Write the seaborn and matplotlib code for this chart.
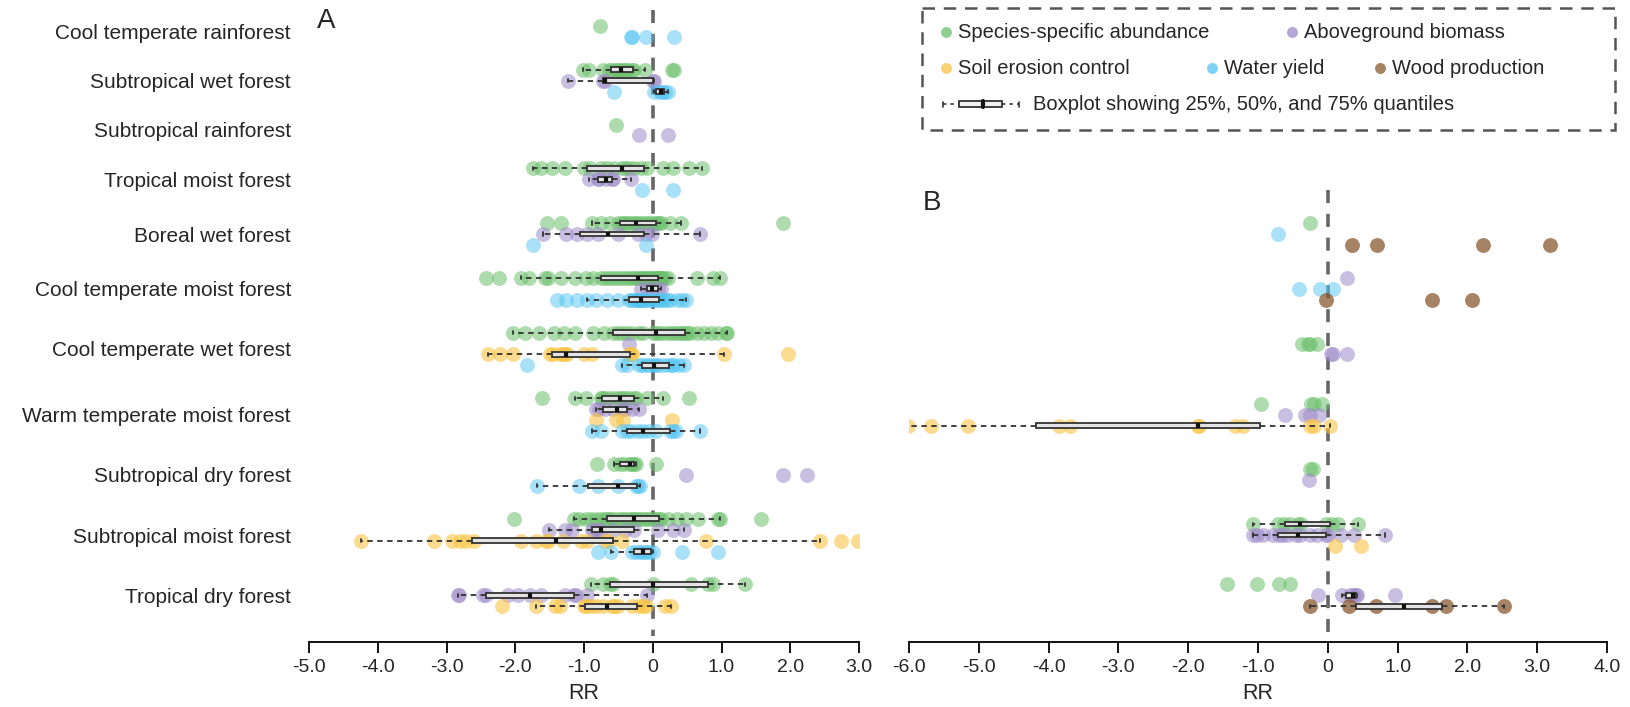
import pandas as pd
import matplotlib
matplotlib.use("Agg")
import matplotlib.pyplot as plt
import seaborn as sns
from matplotlib.patches import Rectangle

CATEGORIES = [
    "Cool temperate rainforest", "Subtropical wet forest", "Subtropical rainforest",
    "Tropical moist forest", "Boreal wet forest", "Cool temperate moist forest",
    "Cool temperate wet forest", "Warm temperate moist forest", "Subtropical dry forest",
    "Subtropical moist forest", "Tropical dry forest",
]
SERVICES = ["Species-specific abundance", "Aboveground biomass", "Soil erosion control",
            "Water yield", "Wood production"]
COLORS = ["#6cc06c", "#9e8bc9", "#f8c444", "#52c4f2", "#8a5a32"]
ALPHAS = [0.55, 0.55, 0.6, 0.5, 0.75]

A_TICKS = [-5, -4, -3, -2, -1, 0, 1, 2, 3]
A_TICKLABELS = ["-5.0", "-4.0", "-3.0", "-2.0", "-1.0", "0", "1.0", "2.0", "3.0"]
B_TICKS = [-6, -5, -4, -3, -2, -1, 0, 1, 2, 3, 4]
B_TICKLABELS = ["-6.0", "-5.0", "-4.0", "-3.0", "-2.0", "-1.0", "0", "1.0", "2.0", "3.0", "4.0"]

# panel A: response ratios per forest type
a_abundance = {
    "Cool temperate rainforest": [-0.77],
    "Subtropical wet forest": [-1.02, -0.93, -0.72, -0.64, -0.60, -0.55, -0.50, -0.47, -0.44, -0.40,
                               -0.36, -0.30, -0.27, -0.11, 0.28, 0.31],
    "Subtropical rainforest": [-0.53],
    "Tropical moist forest": [-1.74, -1.62, -1.47, -1.28, -1.00, -0.92, -0.76, -0.66, -0.56, -0.45,
                              -0.40, -0.35, -0.27, -0.17, -0.09, 0.15, 0.30, 0.52, 0.72],
    "Boreal wet forest": [-1.54, -1.34, -0.89, -0.76, -0.62, -0.50, -0.45, -0.42, -0.38, -0.33, -0.28,
                          -0.25, -0.20, -0.14, -0.08, -0.04, 0.02, 0.06, 0.09, 0.12, 0.25, 0.41, 1.89],
    "Cool temperate moist forest": [-2.43, -2.24, -1.91, -1.80, -1.57, -1.52, -1.34, -1.13, -0.97, -0.87,
                                    -0.75, -0.70, -0.64, -0.58, -0.52, -0.46, -0.40, -0.35, -0.30, -0.26,
                                    -0.22, -0.19, -0.16, -0.13, -0.10, -0.07, -0.04, -0.01, 0.02, 0.05,
                                    0.07, 0.08, 0.09, 0.10, 0.12, 0.14, 0.18, 0.22, 0.64, 0.87, 0.98],
    "Cool temperate wet forest": [-2.03, -1.86, -1.65, -1.44, -1.29, -1.13, -0.87, -0.71, -0.58, -0.50,
                                  -0.45, -0.38, -0.30, -0.20, -0.14, 0.00, 0.05, 0.09, 0.15, 0.22, 0.28,
                                  0.32, 0.38, 0.43, 0.47, 0.50, 0.54, 0.64, 0.74, 0.85, 0.95, 1.06, 1.08],
    "Warm temperate moist forest": [-1.61, -1.13, -0.97, -0.76, -0.74, -0.70, -0.62, -0.55, -0.48, -0.45,
                                    -0.40, -0.35, -0.27, -0.25, -0.09, 0.15, 0.53],
    "Subtropical dry forest": [-0.81, -0.57, -0.48, -0.42, -0.33, -0.31, -0.28, -0.25, 0.05],
    "Subtropical moist forest": [-2.02, -1.15, -1.08, -0.97, -0.90, -0.83, -0.76, -0.70, -0.67, -0.62,
                                 -0.58, -0.50, -0.45, -0.40, -0.35, -0.30, -0.27, -0.25, -0.20, -0.15,
                                 -0.10, -0.05, 0.00, 0.05, 0.09, 0.12, 0.22, 0.35, 0.48, 0.66, 0.95,
                                 0.98, 1.57],
    "Tropical dry forest": [-0.90, -0.73, -0.62, -0.58, 0.00, 0.56, 0.80, 0.88, 1.34],
}
a_biomass = {
    "Subtropical wet forest": [-1.24, -0.72, -0.70, 0.00, 0.02],
    "Subtropical rainforest": [-0.20, 0.22],
    "Tropical moist forest": [-0.93, -0.80, -0.78, -0.68, -0.60, -0.58, -0.32],
    "Boreal wet forest": [-1.60, -1.26, -1.10, -0.95, -0.80, -0.50, -0.22, -0.10, -0.01, 0.69],
    "Cool temperate moist forest": [-0.17, -0.09, -0.01, 0.07, 0.12],
    "Cool temperate wet forest": [-0.35],
    "Warm temperate moist forest": [-0.83, -0.78, -0.70, -0.58, -0.45, -0.40, -0.30, -0.20],
    "Subtropical dry forest": [0.48, 1.89, 2.25],
    "Subtropical moist forest": [-1.51, -1.28, -1.18, -0.88, -0.86, -0.80, -0.76, -0.58, -0.40, -0.27,
                                 0.07, 0.30, 0.46],
    "Tropical dry forest": [-2.84, -2.82, -2.47, -2.43, -2.11, -1.96, -1.79, -1.62, -1.28, -1.15,
                            -1.12, -0.96, -0.09],
}
a_erosion = {
    "Cool temperate wet forest": [-2.40, -2.22, -2.04, -1.50, -1.45, -1.35, -1.30, -1.28, -1.25, -1.00,
                                  -0.88, -0.34, -0.32, -0.30, 1.03, 1.96],
    "Warm temperate moist forest": [-0.83, -0.53, -0.44, 0.28],
    "Subtropical moist forest": [-4.25, -3.18, -2.92, -2.80, -2.72, -2.60, -1.91, -1.70, -1.55, -1.52,
                                 -1.30, -1.05, -0.95, -0.70, -0.63, -0.45, 0.77, 2.43, 2.74, 2.99],
    "Tropical dry forest": [-2.19, -1.70, -1.42, -1.35, -1.00, -0.97, -0.90, -0.82, -0.72, -0.60,
                            -0.56, -0.50, -0.30, -0.20, -0.14, -0.10, 0.18, 0.27],
}
a_water = {
    "Cool temperate rainforest": [-0.32, -0.30, -0.10, 0.31],
    "Subtropical wet forest": [-0.57, 0.02, 0.10, 0.14, 0.18, 0.22],
    "Tropical moist forest": [-0.15, 0.29],
    "Boreal wet forest": [-1.74, -0.10],
    "Cool temperate moist forest": [-1.39, -1.26, -1.10, -0.96, -0.82, -0.66, -0.50, -0.35, -0.32, -0.28,
                                    -0.25, -0.22, -0.20, -0.18, -0.17, -0.15, -0.12, -0.08, -0.04, 0.00,
                                    0.05, 0.09, 0.12, 0.17, 0.21, 0.25, 0.35, 0.43, 0.49],
    "Cool temperate wet forest": [-1.83, -0.45, -0.38, -0.20, -0.15, -0.10, -0.05, 0.00, 0.03, 0.08,
                                  0.15, 0.22, 0.28, 0.30, 0.38, 0.46],
    "Warm temperate moist forest": [-0.89, -0.75, -0.45, -0.37, -0.31, -0.22, -0.14, -0.05, 0.05, 0.25,
                                    0.30, 0.34, 0.68],
    "Subtropical dry forest": [-1.68, -1.08, -0.80, -0.51, -0.25, -0.22, -0.19],
    "Subtropical moist forest": [-0.79, -0.61, -0.30, -0.25, -0.18, -0.14, -0.10, -0.05, 0.00, 0.43, 0.95],
}
a_wood = {}

# panel B
b_abundance = {
    "Boreal wet forest": [-0.26],
    "Cool temperate wet forest": [-0.37, -0.28, -0.26, -0.16],
    "Warm temperate moist forest": [-0.96, -0.24, -0.20, -0.08],
    "Subtropical dry forest": [-0.25, -0.21],
    "Subtropical moist forest": [-1.07, -0.72, -0.63, -0.54, -0.42, -0.38, -0.03, 0.06, 0.14, 0.43],
    "Tropical dry forest": [-1.44, -1.02, -0.70, -0.54],
}
b_biomass = {
    "Cool temperate moist forest": [0.28],
    "Cool temperate wet forest": [0.05, 0.08, 0.27],
    "Warm temperate moist forest": [-0.61, -0.33, -0.26, -0.13],
    "Subtropical dry forest": [-0.27],
    "Subtropical moist forest": [-1.07, -1.02, -0.93, -0.78, -0.70, -0.66, -0.58, -0.45, -0.40, -0.26,
                                 -0.15, -0.03, 0.00, 0.19, 0.38, 0.82],
    "Tropical dry forest": [-0.14, 0.20, 0.32, 0.36, 0.40, 0.42, 0.96],
}
b_erosion = {
    "Warm temperate moist forest": [-6.02, -5.68, -5.15, -3.85, -3.70, -1.86, -1.85, -1.33, -1.22,
                                    -0.25, -0.20, 0.03],
    "Subtropical moist forest": [0.10, 0.48],
}
b_water = {
    "Boreal wet forest": [-0.71],
    "Cool temperate moist forest": [-0.41, -0.11, 0.08],
}
b_wood = {
    "Boreal wet forest": [0.35, 0.71, 2.22, 3.18],
    "Cool temperate moist forest": [-0.02, 1.50, 2.06],
    "Tropical dry forest": [-0.26, 0.31, 0.69, 1.50, 1.69, 2.53],
}

GAP = 2          # empty rows between forest types
MIN_BOX_N = 5    # groups smaller than this get no boxplot


def long_table(groups_by_service):
    rows = []
    for service, groups in zip(SERVICES, groups_by_service):
        for cat, vals in groups.items():
            for v in vals:
                rows.append((cat, service, v))
    return pd.DataFrame(rows, columns=["category", "service", "RR"])


df_a = long_table([a_abundance, a_biomass, a_erosion, a_water, a_wood])
df_b = long_table([b_abundance, b_biomass, b_erosion, b_water, b_wood])

# stack forest types, one row per service present
n_rows, centers, pos = {}, {}, 0
for cat in CATEGORIES:
    n_rows[cat] = max(d.loc[d.category == cat, "service"].nunique() for d in (df_a, df_b))
    centers[cat] = pos + (n_rows[cat] - 1) / 2
    pos += n_rows[cat] + GAP


def add_rows(df):
    row_of = {}
    for cat, sub in df.groupby("category"):
        present = [s for s in SERVICES if s in set(sub.service)]
        for k, s in enumerate(present):
            row_of[(cat, s)] = centers[cat] + k - (len(present) - 1) / 2
    df["row"] = [row_of[(c, s)] for c, s in zip(df.category, df.service)]
    return df


df_a = add_rows(df_a)
df_b = add_rows(df_b)

sns.set_theme(style="white")
plt.rcParams["font.family"] = ["Liberation Sans", "DejaVu Sans"]

fig = plt.figure(figsize=(16.31, 7.07), dpi=100)
W, H = 1631, 707
ax_a = fig.add_axes([309 / W, 65 / H, 550 / W, 642 / H])
ax_b = fig.add_axes([909 / W, 65 / H, 698 / W, 452 / H])

ROW_TOP_A, ROW_BOTTOM, ROW_TOP_B = -2.37, 56.26, 14.98


def draw_panel(ax, df, ticks, ticklabels, ytop, ytop_line):
    sizes = df.groupby("row")["RR"].transform("size")
    boxed = df[sizes >= MIN_BOX_N]
    for service, col, alpha in zip(SERVICES, COLORS, ALPHAS):
        sub = df[df.service == service]
        if sub.empty:
            continue
        sns.scatterplot(data=sub, x="RR", y="row", color=col, s=115, alpha=alpha,
                        linewidth=0, legend=False, ax=ax, zorder=2)
    sns.boxplot(data=boxed, x="RR", y="row", orient="h", native_scale=True,
                width=0.42, whis=1.5, showfliers=False, color="#e4e4e4",
                linecolor="#333333", linewidth=1.3,
                whiskerprops=dict(linestyle=(0, (3, 2.5))),
                medianprops=dict(color="#111111", linewidth=3),
                capwidths=0.3, ax=ax, zorder=3)
    ax.vlines(0, ytop_line, 55.7, colors="#666666", linewidth=2.6,
              linestyles=(0, (3.6, 3.0)), zorder=1)
    ax.set_xlim(ticks[0], ticks[-1])
    ax.set_ylim(ROW_BOTTOM, ytop)
    ax.set_xticks(ticks)
    ax.set_xticklabels(ticklabels)
    ax.set_xlabel("RR", fontsize=15.5, labelpad=5)
    ax.set_ylabel("")
    for side in ("top", "right", "left"):
        ax.spines[side].set_visible(False)
    ax.spines["bottom"].set_color("black")
    ax.spines["bottom"].set_linewidth(1.3)
    ax.tick_params(axis="x", direction="out", length=8, width=1.3, color="black",
                   labelsize=14, pad=4, bottom=True)


draw_panel(ax_a, df_a, A_TICKS, A_TICKLABELS, ROW_TOP_A, -1.46)
draw_panel(ax_b, df_b, B_TICKS, B_TICKLABELS, ROW_TOP_B, ROW_TOP_B)

ax_a.set_yticks([centers[c] for c in CATEGORIES])
ax_a.set_yticklabels(CATEGORIES, fontsize=15)
ax_a.tick_params(axis="y", length=0, pad=13)
ax_b.set_yticks([])

# panel letters and legend, placed in figure pixels
over = fig.add_axes([0, 0, 1, 1], zorder=5)
over.set_xlim(0, W)
over.set_ylim(H, 0)
over.axis("off")
over.text(317, 21, "A", fontsize=20, va="center", ha="left")
over.text(923, 203, "B", fontsize=20, va="center", ha="left")

over.add_patch(Rectangle((922, 8), 693, 122, fill=False, edgecolor="#555555",
                         linewidth=1.8, linestyle=(0, (5, 3.5))))
legend_slots = [(946, 32), (1292, 32), (946, 68), (1212, 68), (1380, 68)]
for (lx, ly), name, col in zip(legend_slots, SERVICES, COLORS):
    over.scatter([lx], [ly], s=62, color=col, alpha=0.75, linewidth=0)
    over.text(lx + 12, ly, name, fontsize=14.5, va="center", ha="left")

by = 104
over.plot([943, 943], [by - 2.5, by + 2.5], color="#333333", lw=1.2)
over.plot([943, 959], [by, by], color="#333333", lw=1.2, ls=(0, (2, 2.5)))
over.add_patch(Rectangle((959, by - 3), 43, 6, facecolor="#f0f0f0",
                         edgecolor="#333333", linewidth=1.3))
over.plot([983, 983], [by - 3, by + 3], color="#111111", lw=3)
over.plot([1002, 1019], [by, by], color="#333333", lw=1.2, ls=(0, (2, 2.5)))
over.plot([1019, 1019], [by - 2.5, by + 2.5], color="#333333", lw=1.2)
over.text(1033, by, "Boxplot showing 25%, 50%, and 75% quantiles", fontsize=14.5,
          va="center", ha="left")

fig.savefig("out.png", dpi=100)
